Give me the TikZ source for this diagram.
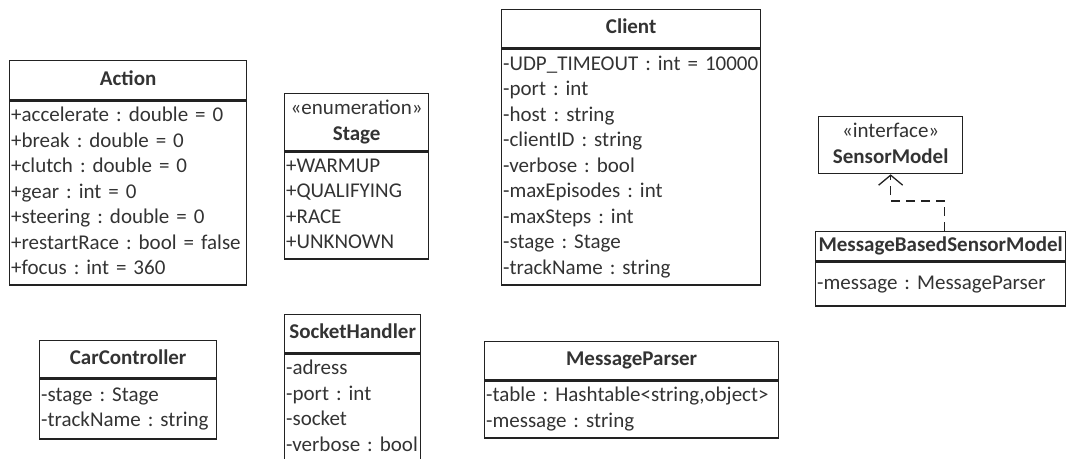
\documentclass[tikz,border=0pt]{standalone}
\usepackage{fontspec}
\setmainfont{Carlito}
\usetikzlibrary{arrows.meta}
\definecolor{ln}{HTML}{222222}
\definecolor{tx}{HTML}{333333}
\newcommand\rw[1]{#1\strut}
\frenchspacing
\tikzset{
  umlbox/.style={draw=ln, line width=1.3pt, anchor=north west, inner sep=0pt, text=tx,
    font=\fontsize{21}{25.5}\selectfont\frenchspacing},
  hdr/.style={umlbox, align=center, font=\fontsize{21}{25.5}\selectfont\bfseries},
  attrs/.style={umlbox, align=left, inner xsep=1.5pt},
  dep/.style={draw=ln, line width=1.3pt, dash pattern=on 9pt off 6pt,
    -{Straight Barb[length=10pt,width=24pt,line width=1.3pt]}}
}
\begin{document}
\begin{tikzpicture}[x=1pt,y=-1pt]
\useasboundingbox (0,0) rectangle (1068,458);
% Action
\node[hdr, text width=237pt, minimum height=39pt] (actH) at (9,60) {\strut Action};
\node[attrs, text width=234pt, minimum height=184pt] (actB) at (actH.south west)
 {\rw{+accelerate : double = 0}\\\rw{+break : double = 0}\\\rw{+clutch : double = 0}\\\rw{+gear : int = 0}\\\rw{+steering : double = 0}\\\rw{+restartRace : bool = false}\\\rw{+focus : int = 360}};
% Stage
\node[hdr, text width=144pt, minimum height=57pt] (stH) at (284,93)
 {\mdseries\strut«enumeration»\\\bfseries\strut Stage};
\node[attrs, text width=141pt, minimum height=107pt] (stB) at (stH.south west)
 {\rw{+WARMUP}\\\rw{+QUALIFYING}\\\rw{+RACE}\\\rw{+UNKNOWN}};
% Client
\node[hdr, text width=259pt, minimum height=38pt] (clH) at (501,9) {\strut Client};
\node[attrs, text width=256pt, minimum height=236pt] (clB) at (clH.south west)
 {\rw{-UDP\_TIMEOUT : int = 10000}\\\rw{-port : int}\\\rw{-host : string}\\\rw{-clientID : string}\\\rw{-verbose : bool}\\\rw{-maxEpisodes : int}\\\rw{-maxSteps : int}\\\rw{-stage : Stage}\\\rw{-trackName : string}};
% SensorModel
\node[hdr, text width=144pt, minimum height=57pt] (sm) at (818,116)
 {\mdseries\strut«interface»\\\bfseries\strut SensorModel};
% MessageBasedSensorModel
\node[hdr, text width=250pt, minimum height=29pt] (mbH) at (815,231) {\strut MessageBasedSensorModel};
\node[attrs, text width=247pt, minimum height=44pt] (mbB) at (mbH.south west)
 {\rw{-message : MessageParser}};
% CarController
\node[hdr, text width=177pt, minimum height=37pt] (ccH) at (39,340) {\strut CarController};
\node[attrs, text width=174pt, minimum height=60pt] (ccB) at (ccH.south west)
 {\rw{-stage : Stage}\\\rw{-trackName : string}};
% SocketHandler
\node[hdr, text width=136pt, minimum height=38pt] (shH) at (284,314) {\strut SocketHandler};
\node[attrs, text width=133pt, minimum height=108pt] (shB) at (shH.south west)
 {\rw{-adress}\\\rw{-port : int}\\\rw{-socket}\\\rw{-verbose : bool}};
% MessageParser
\node[hdr, text width=294pt, minimum height=38pt] (mpH) at (484,341) {\strut MessageParser};
\node[attrs, text width=291pt, minimum height=57pt] (mpB) at (mpH.south west)
 {\rw{-table : Hashtable<string,object>}\\\rw{-message : string}};
% realization
\coordinate (mbTop) at ([xshift=4pt]mbH.north);
\draw[dep] (mbTop) -- ++(0,-30) -| (sm.south);
\end{tikzpicture}
\end{document}
